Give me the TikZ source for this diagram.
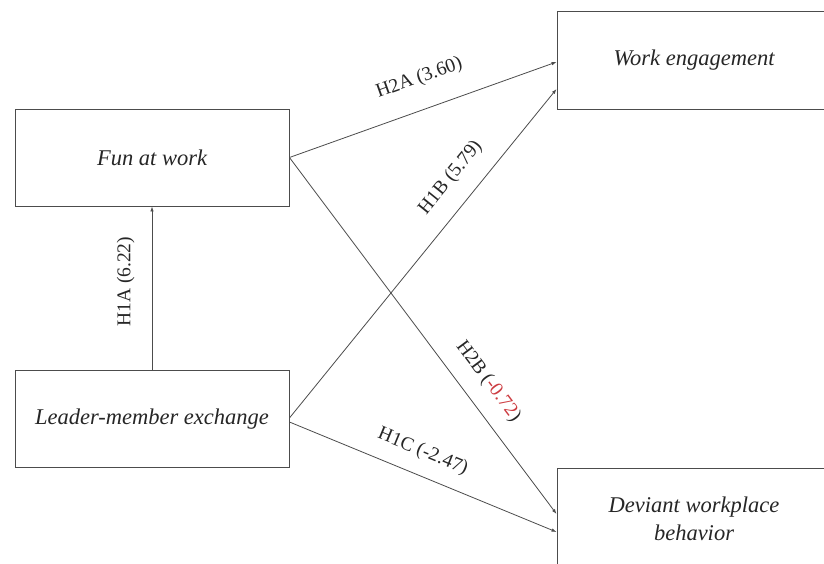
\documentclass[tikz,border=0pt]{standalone}
\usepackage{fontspec}
\setmainfont{Liberation Serif}
\usetikzlibrary{arrows.meta}
\definecolor{negred}{RGB}{205,60,65}
\begin{document}
\begin{tikzpicture}[x=1pt,y=-1pt,
  box/.style={draw=black!70, line width=0.9pt, minimum width=274pt, minimum height=97pt, inner sep=0pt, font=\fontsize{22.5}{28}\selectfont\itshape, text=black!85, align=center},
  conn/.style={draw=black!70, line width=0.8pt, -{Latex[length=5pt,width=3.5pt]}},
  lbl/.style={font=\fontsize{19.5}{22}\selectfont, text=black!85, sloped, inner sep=0pt}]
\useasboundingbox (0,0) rectangle (824,564);
\clip (0,0) rectangle (824,564);
\fill[white] (0,0) rectangle (824,564);
\node[box] (fun) at (152,157.5) {Fun at work};
\node[box] (lmx) at (152,419) {Leader-member exchange};
\node[box, minimum height=98pt] (we) at (694,60) {Work engagement};
\node[box, minimum height=101pt] (dev) at (694,518.5) {Deviant workplace\\behavior};
\draw[conn] (lmx.north) -- node[lbl, pos=0.54, above=17pt] {H1A (6.22)} (fun.south);
\draw[conn] (fun.east) -- node[lbl, pos=0.525, above=21.5pt] {H2A (3.60)} ([yshift=-2pt]we.west);
\draw[conn] ([yshift=1pt]lmx.east) -- node[lbl, pos=0.68, above=17pt] {H1B (5.79)} ([yshift=-29pt]we.west);
\draw[conn] (fun.east) -- node[lbl, pos=0.67, above=15.5pt] {H2B (\textcolor{negred}{-0.72})} ([yshift=4.5pt]dev.west);
\draw[conn] ([yshift=-3pt]lmx.east) -- node[lbl, pos=0.466, above=14pt] {H1C (-2.47)} ([yshift=-13.5pt]dev.west);
\end{tikzpicture}
\end{document}
